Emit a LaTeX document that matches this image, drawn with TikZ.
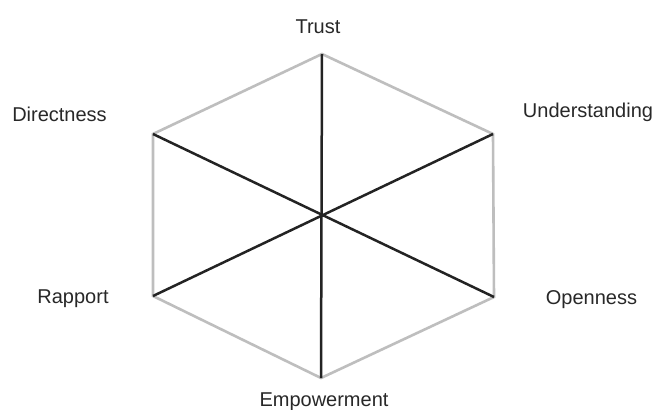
\documentclass[tikz,border=0pt]{standalone}
\usepackage{fontspec}
\setmainfont{Liberation Sans}
\definecolor{rimgray}{RGB}{190,190,190}
\definecolor{spoke}{RGB}{35,35,35}
\definecolor{txt}{RGB}{40,40,40}
\begin{document}
\begin{tikzpicture}[x=1pt,y=-1pt,
  rim/.style={draw=rimgray,line width=2.6pt,line join=miter},
  spokeline/.style={draw=spoke,line width=2.5pt},
  lab/.style={anchor=base,text=txt,font=\fontsize{20}{23}\selectfont,inner sep=0pt}]
\useasboundingbox (0,0) rectangle (657,410);
\fill[white] (0,0) rectangle (657,410);
\coordinate (T) at (322,54);
\coordinate (UR) at (493,134);
\coordinate (LR) at (494,297);
\coordinate (B) at (321,378);
\coordinate (LL) at (153,296);
\coordinate (UL) at (153,134);
\coordinate (C) at (321,216);
\draw[rim] (T) -- (UR) -- (LR) -- (B) -- (LL) -- (UL) -- cycle;
\draw[spokeline] (T) -- (B);
\draw[spokeline] (UL) -- (LR);
\draw[spokeline] (UR) -- (LL);
\node[lab] (trust) at (318,33) {Trust};
\node[lab] (dir) at (59.5,121) {Directness};
\node[lab] (und) at (588,117) {Understanding};
\node[lab] (rap) at (73,303) {Rapport};
\node[lab] (open) at (591.5,304) {Openness};
\node[lab] (emp) at (324,406) {Empowerment};
\end{tikzpicture}
\end{document}
